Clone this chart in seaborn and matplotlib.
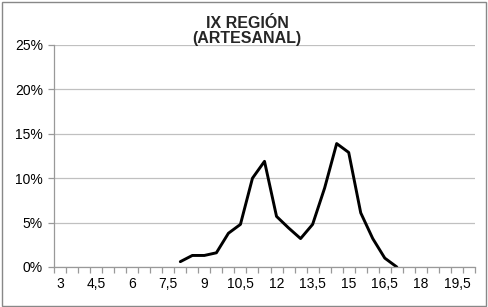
import matplotlib
matplotlib.use("Agg")
import matplotlib.pyplot as plt
import seaborn as sns
import pandas as pd
import numpy as np
from matplotlib.patches import Rectangle
from matplotlib.ticker import FixedLocator

sns.set_theme(style="white")
plt.rcParams['font.family'] = ['Liberation Sans', 'DejaVu Sans']

# Data (talla, %)
sizes = [8.0, 8.5, 9.0, 9.5, 10.0, 10.5, 11.0, 11.5, 12.0, 12.5, 13.0, 13.5,
         14.0, 14.5, 15.0, 15.5, 16.0, 16.5, 17.0]
percent = [0.6, 1.3, 1.3, 1.6, 3.8, 4.8, 10.0, 11.9, 5.7, 4.4, 3.2, 4.8,
           8.9, 13.9, 12.9, 6.1, 3.2, 1.0, 0.0]
tick_labels = ["3", "4,5", "6", "7,5", "9", "10,5", "12", "13,5", "15", "16,5", "18", "19,5"]
tick_values = [3, 4.5, 6, 7.5, 9, 10.5, 12, 13.5, 15, 16.5, 18, 19.5]
y_ticks = [0, 5, 10, 15, 20, 25]

df = pd.DataFrame({"talla": sizes, "pct": percent})

fig = plt.figure(figsize=(4.89, 3.07), dpi=100)
ax = fig.add_axes([54/489, 1-267/307, 421/489, 222/307])

sns.lineplot(data=df, x="talla", y="pct", ax=ax, color="black", linewidth=2.1)

ax.set_xlim(2.75, 20.25)
ax.set_ylim(0, 25)
ax.set_xticks(tick_values)
ax.set_xticklabels(tick_labels, fontsize=10)
ax.xaxis.set_minor_locator(FixedLocator(np.arange(2.75, 20.26, 0.5)))
ax.set_yticks(y_ticks)
ax.set_yticklabels([f"{v}%" for v in y_ticks], fontsize=10)
ax.set_xlabel("")
ax.set_ylabel("")

ax.grid(axis="y", color="#c0c0c0", linewidth=0.9)
ax.grid(axis="x", visible=False)
for s in ["top", "right"]:
    ax.spines[s].set_visible(False)
for s in ["left", "bottom"]:
    ax.spines[s].set_visible(True)
    ax.spines[s].set_color("#999999")
    ax.spines[s].set_linewidth(0.9)

ax.tick_params(axis="x", which="major", length=0, pad=7, labelcolor="black")
ax.tick_params(axis="x", which="minor", bottom=True, length=4, color="#999999", width=0.9)
ax.tick_params(axis="y", which="major", left=True, length=4, color="#999999", width=0.9,
               pad=4, labelcolor="black")

fig.text(247/489, 1-31/307, "IX REGIÓN\n(ARTESANAL)", ha="center", va="center",
         fontsize=11.5, fontweight="bold", linespacing=1.0)

fig.patches.append(Rectangle((0.004, 0.004), 0.99, 0.99, transform=fig.transFigure,
                             fill=False, edgecolor="#888888", linewidth=1.0))

fig.savefig("out.png", dpi=100, facecolor="white")
